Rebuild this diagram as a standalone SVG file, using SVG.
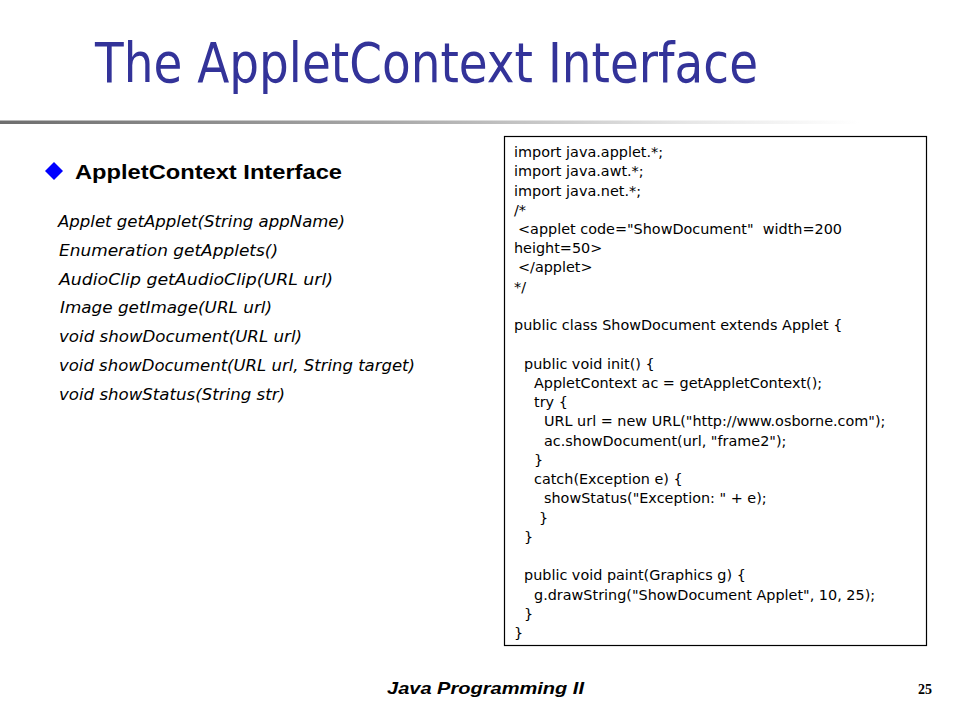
<svg xmlns="http://www.w3.org/2000/svg" width="960" height="720" viewBox="0 0 960 720">
<defs>
<linearGradient id="rule" x1="0" y1="0" x2="1" y2="0">
<stop offset="0" stop-color="#6e6e6e"/>
<stop offset="0.45" stop-color="#a8a8a8"/>
<stop offset="0.8" stop-color="#e6e6e6"/>
<stop offset="1" stop-color="#ffffff"/>
</linearGradient>
<style>
.title{font-family:"DejaVu Sans","Liberation Sans",sans-serif;font-size:56px;fill:#333399}
.head{font-family:"Liberation Sans",Arial,sans-serif;font-size:20px;font-weight:bold;fill:#000}
.meth{font-family:"DejaVu Sans","Liberation Sans",sans-serif;font-size:16px;font-style:italic;fill:#000}
.code{font-family:"DejaVu Sans","Liberation Sans",sans-serif;font-size:14.4px;fill:#000}
.foot{font-family:"Liberation Sans",Arial,sans-serif;font-size:17px;font-weight:bold;font-style:italic;fill:#000}
.num{font-family:"Liberation Serif","Times New Roman",serif;font-size:14px;font-weight:bold;fill:#000}
</style>
</defs>
<rect width="960" height="720" fill="#ffffff"/>
<g id="title">
<text class="title" x="95" y="82" textLength="663" lengthAdjust="spacingAndGlyphs">The AppletContext Interface</text>
<rect x="0" y="120.5" width="860" height="3.5" fill="url(#rule)"/>
</g>
<g id="methods">
<polygon points="54,162 63,171 54,180 45,171" fill="#0000ff"/>
<text class="head" x="75" y="179" textLength="267" lengthAdjust="spacingAndGlyphs">AppletContext Interface</text>
<text class="meth" x="58" y="227" textLength="287" lengthAdjust="spacingAndGlyphs">Applet getApplet(String appName)</text>
<text class="meth" x="59" y="255.8" textLength="219" lengthAdjust="spacingAndGlyphs">Enumeration getApplets()</text>
<text class="meth" x="59" y="284.6" textLength="274" lengthAdjust="spacingAndGlyphs">AudioClip getAudioClip(URL url)</text>
<text class="meth" x="60" y="313.4" textLength="212" lengthAdjust="spacingAndGlyphs">Image getImage(URL url)</text>
<text class="meth" x="59" y="342.2" textLength="243" lengthAdjust="spacingAndGlyphs">void showDocument(URL url)</text>
<text class="meth" x="59" y="371" textLength="356" lengthAdjust="spacingAndGlyphs">void showDocument(URL url, String target)</text>
<text class="meth" x="59" y="399.8" textLength="226" lengthAdjust="spacingAndGlyphs">void showStatus(String str)</text>
</g>
<g id="code">
<rect x="504.5" y="136.5" width="422" height="509" fill="#ffffff" stroke="#000000" stroke-width="1.2"/>
<text class="code" x="514" y="157">import java.applet.*;</text>
<text class="code" x="514" y="176.2">import java.awt.*;</text>
<text class="code" x="514" y="195.5">import java.net.*;</text>
<text class="code" x="514" y="214.7">/*</text>
<text class="code" x="518" y="234" xml:space="preserve">&lt;applet code="ShowDocument"  width=200</text>
<text class="code" x="514" y="253.2">height=50&gt;</text>
<text class="code" x="518" y="272.4">&lt;/applet&gt;</text>
<text class="code" x="514" y="291.7">*/</text>
<text class="code" x="514" y="330.2">public class ShowDocument extends Applet {</text>
<text class="code" x="524" y="368.6">public void init() {</text>
<text class="code" x="534" y="387.9">AppletContext ac = getAppletContext();</text>
<text class="code" x="534" y="407.1">try {</text>
<text class="code" x="544" y="426.4">URL url = new URL("http://www.osborne.com");</text>
<text class="code" x="544" y="445.6">ac.showDocument(url, "frame2");</text>
<text class="code" x="534" y="464.8">}</text>
<text class="code" x="534" y="484.1">catch(Exception e) {</text>
<text class="code" x="544" y="503.3">showStatus("Exception: " + e);</text>
<text class="code" x="539" y="522.6">}</text>
<text class="code" x="524" y="541.8">}</text>
<text class="code" x="524" y="580.3">public void paint(Graphics g) {</text>
<text class="code" x="534" y="599.5">g.drawString("ShowDocument Applet", 10, 25);</text>
<text class="code" x="524" y="618.8">}</text>
<text class="code" x="514" y="638">}</text>
</g>
<g id="footer">
<text class="foot" x="387" y="694" textLength="197" lengthAdjust="spacingAndGlyphs">Java Programming II</text>
<text class="num" x="918" y="694">25</text>
</g>
</svg>
